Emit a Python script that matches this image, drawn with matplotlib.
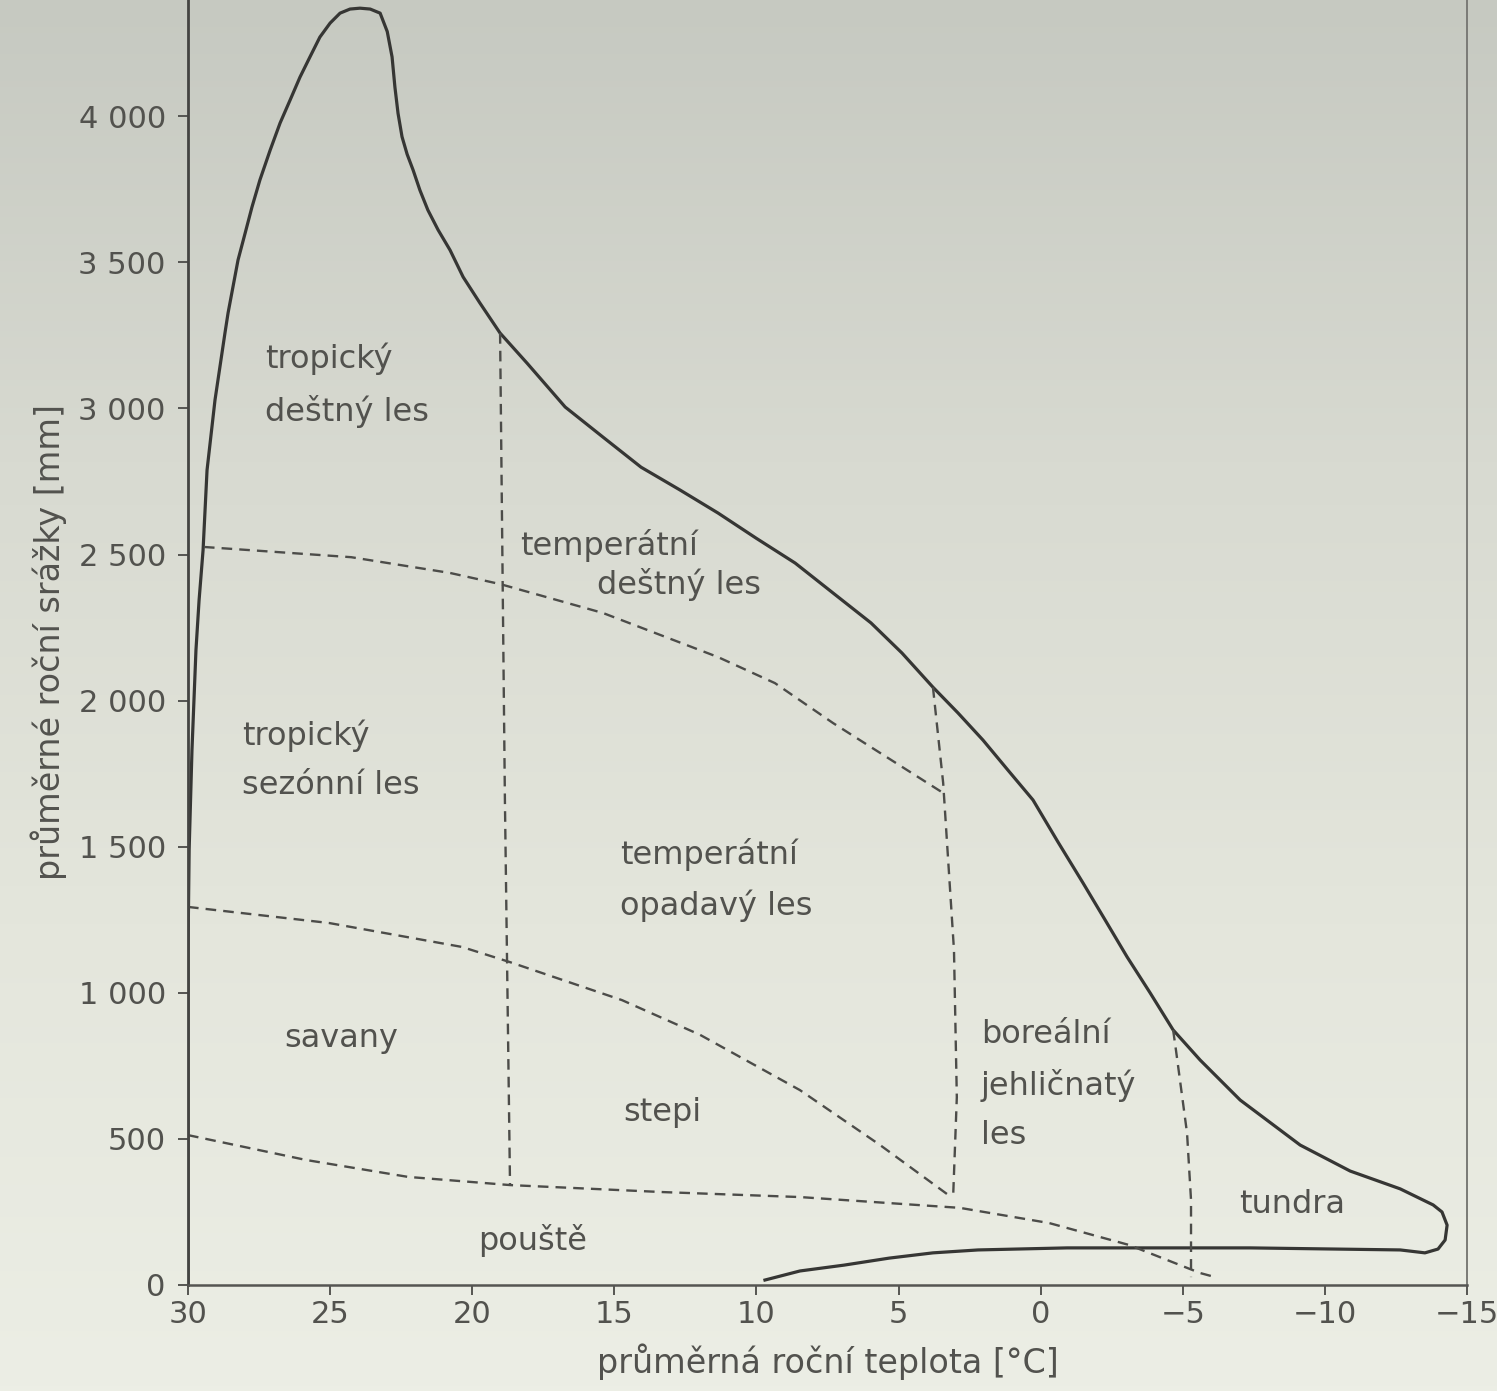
import numpy as np
import matplotlib
matplotlib.use("Agg")
import matplotlib.pyplot as plt
from matplotlib.colors import LinearSegmentedColormap

plt.rcParams["font.family"] = ["DejaVu Sans"]

# outer boundary of all biomes (temperature degC, precipitation mm)
outer_t = [9.70, 8.47, 6.92, 5.33, 3.79, 2.20, -0.93, -7.37, -12.65, -13.52,
           -13.98, -14.23, -14.30, -14.12, -13.81, -12.65, -10.89, -9.13, -7.02,
           -5.61, -4.66, -3.85, -3.04, -2.27, -1.49, -0.61, 0.27, 1.15, 2.03,
           2.91, 3.79, 4.88, 5.97, 7.30, 8.64, 10.01, 11.35, 12.69, 14.06, 15.40,
           16.73, 18.07, 19.02, 19.73, 20.32, 20.78, 21.20, 21.56, 21.84, 22.08,
           22.29, 22.47, 22.61, 22.72, 22.82, 22.99, 23.24, 23.59, 23.95, 24.30,
           24.65, 25.00, 25.36, 25.71, 26.06, 26.41, 26.76, 27.11, 27.47, 27.75,
           27.99, 28.24, 28.42, 28.59, 28.70, 29.05, 29.33, 29.47, 29.61, 29.72,
           29.86, 29.96, 30.0, 30.0]
outer_p = [17, 48, 68, 92, 110, 120, 127, 127, 120, 110,
           123, 154, 205, 250, 274, 329, 390, 479, 633,
           770, 873, 1000, 1123, 1249, 1376, 1516, 1660, 1762, 1865,
           1958, 2046, 2163, 2266, 2368, 2471, 2556, 2642, 2721, 2799, 2902,
           3005, 3155, 3258, 3361, 3450, 3542, 3611, 3679, 3747, 3816,
           3870, 3930, 4010, 4100, 4203, 4290, 4353, 4367, 4370, 4367,
           4353, 4319, 4271, 4203, 4134, 4055, 3977, 3884, 3782, 3689,
           3600, 3508, 3415, 3327, 3258, 3029, 2789, 2515, 2344, 2173,
           1831, 1489, 1146, 0]

# dashed biome borders
rain_t = [29.44, 24.26, 20.78, 19.02, 15.40, 11.35, 9.35, 7.30, 3.43]
rain_p = [2526, 2491, 2437, 2399, 2300, 2149, 2060, 1923, 1684]

seasonal_t = [30.0, 25.04, 20.36, 18.67, 14.73, 11.98, 8.47, 5.65, 3.15]
seasonal_p = [1294, 1239, 1157, 1105, 975, 856, 667, 479, 301]

desert_t = [30.0, 25.85, 22.26, 18.67, 13.29, 8.47, 2.84, -0.30, -3.11, -5.61, -6.14]
desert_p = [513, 428, 370, 342, 318, 301, 264, 212, 137, 41, 27]

tropic_t = [19.02, 18.85, 18.67]
tropic_p = [3258, 1660, 342]

boreal_t = [3.79, 3.43, 3.05, 2.95, 3.08]
boreal_p = [2046, 1718, 1146, 643, 301]

tundra_t = [-4.66, -4.76, -5.15, -5.29, -5.29]
tundra_p = [873, 804, 520, 291, 27]

# biome labels
labels = ["tropický\ndeštný les", "temperátní", "deštný les", "tropický\nsezónní les",
          "temperátní\nopadavý les", "savany", "stepi", "pouště",
          "boreální\njehličnatý\nles", "tundra"]
label_t = [27.3, 18.3, 15.6, 28.1, 14.8, 26.6, 14.7, 19.8, 2.1, -7.0]
label_p = [3080, 2532, 2396, 1797, 1386, 845, 592, 154, 684, 274]

xticks = [30, 25, 20, 15, 10, 5, 0, -5, -10, -15]
xtick_labels = ["30", "25", "20", "15", "10", "5", "0", "\u22125", "\u221210", "\u221215"]
yticks = [0, 500, 1000, 1500, 2000, 2500, 3000, 3500, 4000]
ytick_labels = ["0", "500", "1 000", "1 500", "2 000", "2 500", "3 000", "3 500", "4 000"]

txt = "#52524e"
fig = plt.figure(figsize=(14.97, 13.91), dpi=100)

# paper background, a bit darker at the top of the scan
bg = fig.add_axes([0, 0, 1, 1], zorder=-5)
cmap = LinearSegmentedColormap.from_list("paper", ["#c6c9c1", "#d8dad1", "#e4e6dc", "#eceee5"])
bg.imshow(np.linspace(0, 1, 256).reshape(-1, 1), aspect="auto", cmap=cmap,
          extent=[0, 1, 0, 1], origin="upper")
bg.axis("off")

ax = fig.add_axes([188 / 1497, 106 / 1391, 1279 / 1497, 1285 / 1391])
ax.patch.set_alpha(0)
ax.set_xlim(30, -15)
ax.set_ylim(0, 4398)

ax.plot(outer_t, outer_p, color="#363634", lw=2.3, solid_joinstyle="round")
for t, p in [(rain_t, rain_p), (seasonal_t, seasonal_p), (desert_t, desert_p),
             (tropic_t, tropic_p), (boreal_t, boreal_p), (tundra_t, tundra_p)]:
    ax.plot(t, p, color="#4c4c49", lw=1.7, dashes=(4.5, 3.0))

for s, t, p in zip(labels, label_t, label_p):
    ax.text(t, p, s, ha="left", va="center", fontsize=23, color=txt, linespacing=1.75)

ax.spines["top"].set_visible(False)
ax.spines["left"].set_color("#444442")
ax.spines["left"].set_linewidth(2.0)
ax.spines["bottom"].set_color("#555552")
ax.spines["bottom"].set_linewidth(1.8)
ax.spines["right"].set_color("#7a7a76")
ax.spines["right"].set_linewidth(1.4)

ax.set_xticks(xticks)
ax.set_xticklabels(xtick_labels)
ax.set_yticks(yticks)
ax.set_yticklabels(ytick_labels)
ax.tick_params(direction="out", length=7, width=1.4, color="#555552",
               labelsize=22, labelcolor=txt)
ax.tick_params(axis="x", pad=4)
ax.tick_params(axis="y", pad=9)

ax.set_xlabel("průměrná roční teplota [°C]", fontsize=24, color=txt, labelpad=10)
ax.set_ylabel("průměrné roční srážky [mm]", fontsize=24, color=txt, labelpad=8)

fig.savefig("out.png", dpi=100)
